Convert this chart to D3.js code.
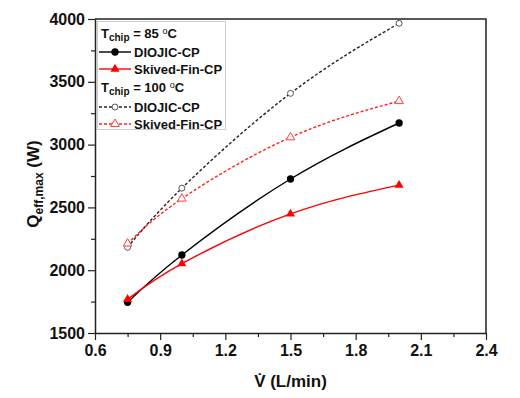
<!DOCTYPE html>
<html>
<head>
<meta charset="utf-8">
<script src="https://cdn.jsdelivr.net/npm/d3@7"></script>
<style>
  body { margin: 0; background: #fff; }
  text { font-family: "Liberation Sans", Arial, sans-serif; font-weight: bold; }
</style>
</head>
<body>
<div id="chart"></div>
<script>
/* DATA */
const flowRates = [0.75, 1.0, 1.5, 2.0];
const diojic85 = [1745, 2121, 2726, 3172];
const skived85 = [1768, 2052, 2448, 2677];
const diojic100 = [2182, 2653, 3408, 3966];
const skived100 = [2212, 2570, 3058, 3346];
const xTicks = [0.6, 0.9, 1.2, 1.5, 1.8, 2.1, 2.4];
const yTicks = [1500, 2000, 2500, 3000, 3500, 4000];

/* CONSTANTS */
const width = 520;
const height = 398;
const margin = { top: 19, right: 34, bottom: 65, left: 95 };

const svg = d3.select("#chart")
  .append("svg")
  .attr("width", width)
  .attr("height", height);

// SCALES
const xScale = d3.scaleLinear()
  .domain([0.6, 2.4])
  .range([margin.left, width - margin.right]);

const yScale = d3.scaleLinear()
  .domain([1500, 4000])
  .range([height - margin.bottom, margin.top]);

// MINOR TICKS
const xMinor = d3.range(0.75, 2.4, 0.3);
const yMinor = d3.range(1750, 4000, 500);

svg.append("g")
  .attr("transform", `translate(0, ${yScale(1500)})`)
  .call(d3.axisBottom(xScale).tickValues(xMinor).tickSize(4).tickFormat(""))
  .call(g => g.select(".domain").remove())
  .selectAll("line").attr("stroke", "#222").attr("stroke-width", 1.2);

svg.append("g")
  .attr("transform", `translate(${xScale(0.6)}, 0)`)
  .call(d3.axisLeft(yScale).tickValues(yMinor).tickSize(4).tickFormat(""))
  .call(g => g.select(".domain").remove())
  .selectAll("line").attr("stroke", "#222").attr("stroke-width", 1.2);

// MAJOR AXES
const xAxisGroup = svg.append("g")
  .attr("transform", `translate(0, ${yScale(1500)})`)
  .call(d3.axisBottom(xScale).tickValues(xTicks).tickSize(7).tickSizeOuter(0).tickPadding(5).tickFormat(d3.format(".1f")));

const yAxisGroup = svg.append("g")
  .attr("transform", `translate(${xScale(0.6)}, 0)`)
  .call(d3.axisLeft(yScale).tickValues(yTicks).tickSize(7).tickSizeOuter(0).tickPadding(3).tickFormat(d3.format("d")));

[xAxisGroup, yAxisGroup].forEach(g => {
  g.select(".domain").attr("stroke", "#222").attr("stroke-width", 1.5);
  g.selectAll(".tick line").attr("stroke", "#222").attr("stroke-width", 1.2);
  g.selectAll(".tick text")
    .style("font-size", "16px")
    .style("font-family", "'Liberation Sans', Arial, sans-serif")
    .style("font-weight", "bold")
    .attr("fill", "#111");
});

// top + right frame
svg.append("path")
  .attr("d", `M${xScale(0.6)},${yScale(4000)}H${xScale(2.4)}V${yScale(1500)}`)
  .attr("fill", "none")
  .attr("stroke", "#222")
  .attr("stroke-width", 1.5);

// AXIS TITLES
const xTitle = svg.append("text")
  .attr("x", (xScale(0.6) + xScale(2.4)) / 2)
  .attr("y", 387)
  .attr("text-anchor", "middle")
  .style("font-size", "17px")
  .attr("fill", "#111");
xTitle.append("tspan").text("V\u0307 (L/min)");

const yTitle = svg.append("text")
  .attr("transform", `translate(39, 184) rotate(-90)`)
  .attr("text-anchor", "middle")
  .style("font-size", "17px")
  .attr("fill", "#111");
yTitle.append("tspan").text("Q");
yTitle.append("tspan").attr("dy", 4).style("font-size", "12px").text("eff,max");
yTitle.append("tspan").attr("dy", -4).text(" (W)");

// SERIES
const series = [
  { name: "DIOJIC-CP", values: diojic85, color: "#000", dash: null, marker: "circle", fill: true },
  { name: "Skived-Fin-CP", values: skived85, color: "#ff0000", dash: null, marker: "triangle", fill: true },
  { name: "DIOJIC-CP", values: diojic100, color: "#222", dash: "3,2", marker: "circle", fill: false },
  { name: "Skived-Fin-CP", values: skived100, color: "#ff2020", dash: "3,2", marker: "triangle", fill: false }
];

const line = d3.line()
  .x((d, i) => xScale(flowRates[i]))
  .y(d => yScale(d))
  .curve(d3.curveNatural);

const circleSym = d3.symbol().type(d3.symbolCircle);
const triSym = d3.symbol().type(d3.symbolTriangle);

function markerPath(s) {
  if (s.marker === "circle") return circleSym.size(s.fill ? 42 : 28)();
  return triSym.size(s.fill ? 36 : 32)();
}

function styleMarker(sel, s) {
  sel.attr("d", markerPath(s))
    .attr("fill", s.fill ? s.color : "#fff")
    .attr("stroke", s.fill ? "none" : (s.marker === "circle" ? "#555" : "#ff4040"))
    .attr("stroke-width", 1);
}

series.forEach(s => {
  svg.append("path")
    .datum(s.values)
    .attr("d", line)
    .attr("fill", "none")
    .attr("stroke", s.color)
    .attr("stroke-width", 1.4)
    .attr("stroke-dasharray", s.dash);

  svg.selectAll(null)
    .data(s.values)
    .join("path")
    .attr("transform", (d, i) => `translate(${xScale(flowRates[i])}, ${yScale(d)})`)
    .call(sel => styleMarker(sel, s));
});

// LEGEND
const legend = svg.append("g");
legend.append("rect")
  .attr("x", 97.5).attr("y", 21.5)
  .attr("width", 128).attr("height", 108)
  .attr("fill", "#fff")
  .attr("stroke", "#ccc")
  .attr("stroke-width", 1);

function tchipLabel(y, temp) {
  const t = legend.append("text")
    .attr("x", 101).attr("y", y)
    .style("font-size", "13px")
    .attr("fill", "#111");
  t.append("tspan").text("T");
  t.append("tspan").attr("dy", 3).style("font-size", "10px").text("chip");
  t.append("tspan").attr("dy", -3).text(` = ${temp} `);
  t.append("tspan").attr("dy", -4).style("font-size", "9px").style("font-weight", "normal").text("o");
  t.append("tspan").attr("dy", 4).text("C");
}

tchipLabel(38, 85);
tchipLabel(92, 100);

const legendRows = [
  { s: series[0], y: 52 },
  { s: series[1], y: 69 },
  { s: series[2], y: 107 },
  { s: series[3], y: 124 }
];

legendRows.forEach(r => {
  legend.append("line")
    .attr("x1", 99).attr("x2", 131)
    .attr("y1", r.y).attr("y2", r.y)
    .attr("stroke", r.s.color)
    .attr("stroke-width", 1.4)
    .attr("stroke-dasharray", r.s.dash);
  legend.append("path")
    .attr("transform", `translate(115, ${r.y})`)
    .call(sel => styleMarker(sel, r.s));
  legend.append("text")
    .attr("x", 134).attr("y", r.y + 5)
    .style("font-size", "13px")
    .attr("fill", "#111")
    .text(r.s.name);
});
</script>
</body>
</html>
